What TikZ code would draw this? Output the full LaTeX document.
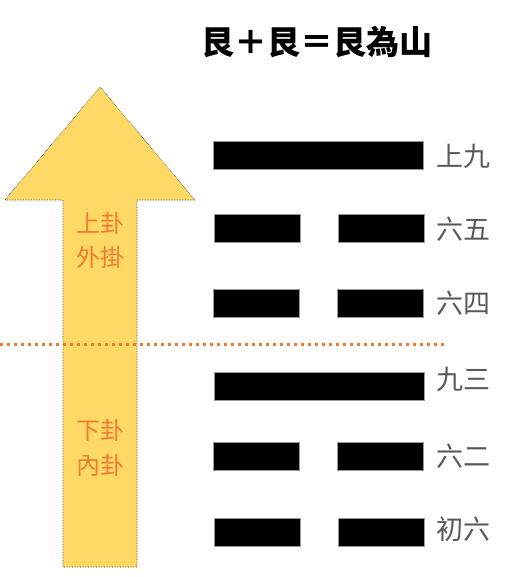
\documentclass[tikz,border=0pt]{standalone}
\usepackage{fontspec}
\newfontfamily\cjk{Noto Sans CJK TC}
\usetikzlibrary{calc}

\definecolor{arrowyellow}{HTML}{FFD966}
\definecolor{guaorange}{HTML}{ED7D31}
\definecolor{namegray}{HTML}{595959}

\tikzset{
	yang/.style={fill=black,draw=black!40,thin,minimum width=210pt,minimum height=28pt,inner sep=0pt},
	yin/.style={fill=black,draw=black!40,thin,minimum width=86pt,minimum height=28pt,inner sep=0pt},
	yaoname/.style={text=namegray,font=\cjk\fontsize{27}{27}\selectfont,anchor=west,inner sep=0pt},
	guaname/.style={text=guaorange,font=\cjk\fontsize{24}{24}\selectfont,inner sep=0pt}
}

\begin{document}
\begin{tikzpicture}[x=1pt,y=-1pt]
	\useasboundingbox (0,0) rectangle (504,577);
	
	\node[font=\cjk\bfseries\fontsize{33}{33}\selectfont] (title) at (317,42) {艮＋艮＝艮為山};
	
	% arrow
	\draw[fill=arrowyellow,draw=black!75,line width=0.6pt,densely dotted] (100,87) -- (195,200) -- (137,200) -- (137,567)
		-- (63,567) -- (63,200) -- (5,200) -- cycle;
	\node[guaname] (up1) at (100,223) {上卦};
	\node[guaname] (up2) at (100,257) {外掛};
	\node[guaname] (lo1) at (100,430) {下卦};
	\node[guaname] (lo2) at (100,465) {內卦};
	
	% divider
	\draw[guaorange,line width=3pt,dash pattern=on 3pt off 4pt] (0,344) -- (446,344);
	
	% lines
	\node[yang] (l6) at (318.5,155) {};
	\node[yin] (l5a) at (257,228.5) {};
	\node[yin] (l5b) at (381,228.5) {};
	\node[yin] (l4a) at (256,303.5) {};
	\node[yin] (l4b) at (380,303.5) {};
	\node[yang] (l3) at (319.5,386) {};
	\node[yin] (l2a) at (256,456) {};
	\node[yin] (l2b) at (380,456) {};
	\node[yin] (l1a) at (257.5,532.5) {};
	\node[yin] (l1b) at (381,532.5) {};
	
	\node[yaoname] (n6) at (436,156) {上九};
	\node[yaoname] (n5) at (436,229) {六五};
	\node[yaoname] (n4) at (436,303) {六四};
	\node[yaoname] (n3) at (436,379) {九三};
	\node[yaoname] (n2) at (436,456) {六二};
	\node[yaoname] (n1) at (436,529) {初六};
\end{tikzpicture}
\end{document}
